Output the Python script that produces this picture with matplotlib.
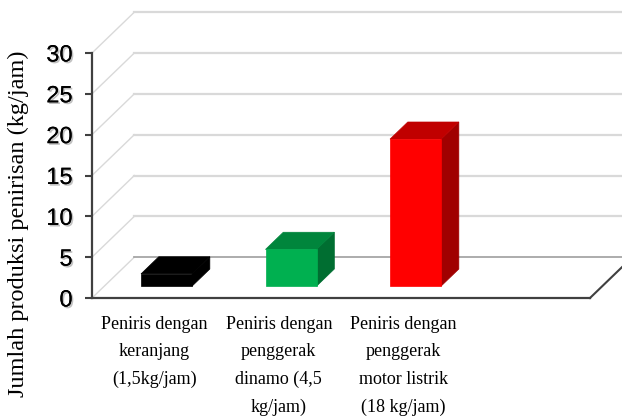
import matplotlib
matplotlib.use("Agg")
import matplotlib.pyplot as plt
import matplotlib.patheffects as pe
from matplotlib.patches import Polygon

# Data
categories = [
    "Peniris dengan\nkeranjang\n(1,5kg/jam)",
    "Peniris dengan\npenggerak\ndinamo (4,5\nkg/jam)",
    "Peniris dengan\npenggerak\nmotor listrik\n(18 kg/jam)",
]
values = [1.5, 4.5, 18]
front_colors = ["#000000", "#00B050", "#FF0000"]
top_colors = ["#000000", "#00853C", "#C00000"]
side_colors = ["#000000", "#006E31", "#A00000"]
y_ticks = [0, 5, 10, 15, 20, 25, 30]
n_slots = 4  # one empty slot on the right of the floor

# Oblique depth offset of the back wall, in data units
DX, DY = 0.34, 5.0
# Bars occupy the middle band of the depth
D_FRONT, D_BACK = 0.29, 0.71
BAR_W = 0.41

fig = plt.figure(figsize=(6.22, 4.16), dpi=100)
ax = fig.add_axes([92 / 622, 118 / 416, 498 / 622, 245 / 416])
ax.set_xlim(-0.5, n_slots - 0.5)
ax.set_ylim(0, 30)

x_left, x_right = -0.5, n_slots - 0.5
grid_c = "#D9D9D9"

# Side wall diagonals and back wall gridlines
for yv in y_ticks:
    ax.plot([x_left, x_left + DX], [yv, yv + DY], color=grid_c, lw=1.0,
            clip_on=False, zorder=1)
    ax.plot([x_left + DX, x_right + DX + 0.2], [yv + DY, yv + DY],
            color="#A6A6A6" if yv == 0 else grid_c,
            lw=1.3 if yv == 0 else 1.6, clip_on=False, zorder=1)

# Right edge of the floor
ax.plot([x_right, x_right + DX], [0, DY], color="#404040", lw=1.5,
        clip_on=False, zorder=2)

# 3D-style bars
for i, (v, fc, tc, sc) in enumerate(zip(values, front_colors, top_colors, side_colors)):
    x0 = i - BAR_W / 2 + DX * D_FRONT
    x1 = i + BAR_W / 2 + DX * D_FRONT
    yb = DY * D_FRONT
    yt = v + DY * D_FRONT
    ddx = DX * (D_BACK - D_FRONT)
    ddy = DY * (D_BACK - D_FRONT)
    ax.add_patch(Polygon([(x1, yb), (x1, yt), (x1 + ddx, yt + ddy), (x1 + ddx, yb + ddy)],
                         closed=True, facecolor=sc, edgecolor=sc, lw=0.5,
                         clip_on=False, zorder=3))
    ax.add_patch(Polygon([(x0, yt), (x1, yt), (x1 + ddx, yt + ddy), (x0 + ddx, yt + ddy)],
                         closed=True, facecolor=tc, edgecolor=tc, lw=0.5,
                         clip_on=False, zorder=3))
    ax.add_patch(Polygon([(x0, yb), (x1, yb), (x1, yt), (x0, yt)],
                         closed=True, facecolor=fc, edgecolor=fc, lw=0.5,
                         clip_on=False, zorder=4))

# Axes styling
for s in ["top", "right"]:
    ax.spines[s].set_visible(False)
for s in ["left", "bottom"]:
    ax.spines[s].set_color("#404040")
    ax.spines[s].set_linewidth(1.6)
    ax.spines[s].set_zorder(5)

ax.set_yticks(y_ticks)
ax.set_yticklabels([str(t) for t in y_ticks], fontfamily="Liberation Sans", fontsize=17)
ax.tick_params(axis="y", length=5, width=1.5, color="#404040", pad=9)
for lbl in ax.get_yticklabels():
    lbl.set_path_effects([pe.withSimplePatchShadow(offset=(1.2, -1.2), shadow_rgbFace="#999999", alpha=0.6),
                          pe.Normal()])

ax.set_xticks(range(len(categories)))
ax.set_xticklabels(categories, fontfamily="Liberation Serif", fontsize=13)
ax.tick_params(axis="x", length=0, pad=13)
for lbl in ax.get_xticklabels():
    lbl.set_multialignment("center")
    lbl.set_linespacing(1.8)
    lbl.set_verticalalignment("top")

ax.set_ylabel("Jumlah produksi penirisan (kg/jam)", fontfamily="Liberation Serif", fontsize=17.5)
ax.yaxis.set_label_coords(-0.126, 0.302)

ax.patch.set_visible(False)
fig.savefig("out.png", dpi=100, facecolor="white")
